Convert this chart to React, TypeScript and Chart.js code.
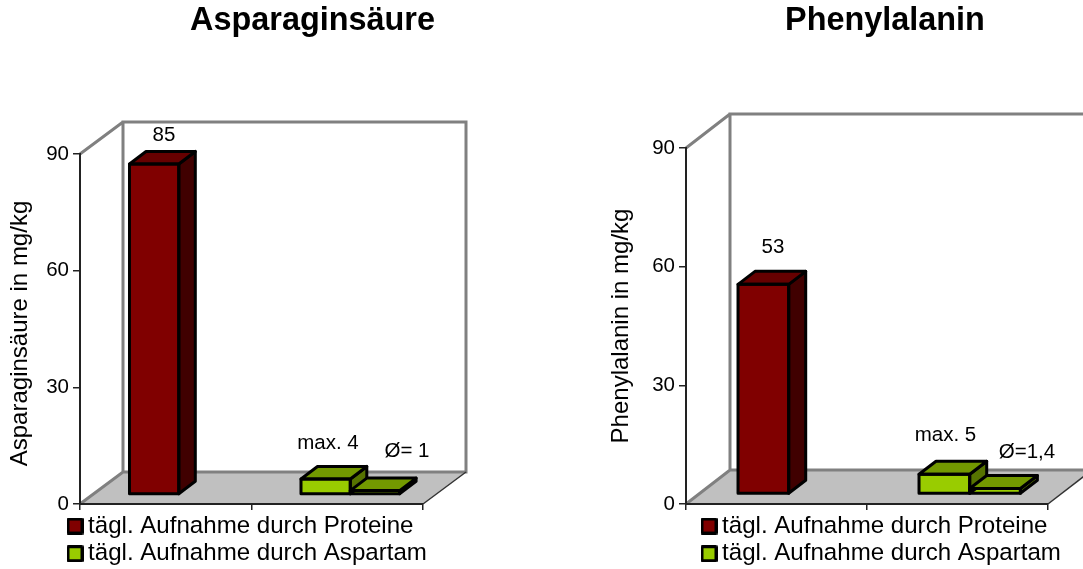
import React, { useEffect, useRef } from "react";
import { Chart, registerables } from "chart.js";

Chart.register(...registerables);

const FONT = '"Liberation Sans", Arial, sans-serif';
const categories = ["Proteine", "Aspartam"];
const legendProtein = "tägl. Aufnahme durch Proteine";
const legendAspartam = "tägl. Aufnahme durch Aspartam";

const aspProtein = [85, null];
const aspMax = [null, 4];
const aspAvg = [null, 1];
const aspLabels = ["85", "max. 4", "Ø= 1"];

const pheProtein = [53, null];
const pheMax = [null, 5];
const pheAvg = [null, 1.4];
const pheLabels = ["53", "max. 5", "Ø=1,4"];

const yMax = 90;
const yStep = 30;

const RED = { front: "#800000", top: "#660000", side: "#400000" };
const GREEN = { front: "#99CC00", top: "#739900", side: "#567300" };
const OUTLINE = 3;

function swatch(color: string) {
  const c = document.createElement("canvas");
  c.width = 17;
  c.height = 17;
  const x = c.getContext("2d")!;
  x.fillStyle = color;
  x.strokeStyle = "#000";
  x.lineWidth = 3;
  x.lineJoin = "round";
  x.rect(1.5, 1.5, 14, 14);
  x.fill();
  x.stroke();
  return c;
}

function poly(ctx: any, pts: number[][], fill?: string, stroke?: string, lw = 1) {
  ctx.beginPath();
  pts.forEach((p, i) => (i ? ctx.lineTo(p[0], p[1]) : ctx.moveTo(p[0], p[1])));
  ctx.closePath();
  if (fill) {
    ctx.fillStyle = fill;
    ctx.fill();
  }
  if (stroke) {
    ctx.strokeStyle = stroke;
    ctx.lineWidth = lw;
    ctx.lineJoin = "round";
    ctx.stroke();
  }
}

function plugin3d(cfg: any) {
  return {
    id: "box3d",
    afterLayout(chart: any) {
      const t = chart.titleBlock;
      t.left = cfg.titleX - 300;
      t.right = cfg.titleX + 300;
      const l = chart.legend;
      l.left = cfg.legendX;
      l.top = cfg.legendY;
      l.right = chart.width + 200;
      l.bottom = chart.height + 50;
      l.draw = () => l._draw();
      const y = chart.scales.y;
      if (cfg.yTitleShift && !y.__shifted) {
        y.__shifted = true;
        const orig = y.drawTitle.bind(y);
        y.drawTitle = () => {
          y.top += cfg.yTitleShift;
          y.bottom += cfg.yTitleShift;
          orig();
          y.top -= cfg.yTitleShift;
          y.bottom -= cfg.yTitleShift;
        };
      }
    },
    beforeDraw(chart: any) {
      const { ctx, chartArea: a } = chart;
      const { depthX: dx, depthY: dy } = cfg;
      ctx.save();
      const tl = a.top - dy;
      const bl = a.bottom - dy;
      poly(ctx, [[a.left, a.bottom], [a.right, a.bottom], [a.right + dx, bl], [a.left + dx, bl]], "#C0C0C0");
      ctx.strokeStyle = "#808080";
      ctx.lineWidth = 3;
      ctx.lineJoin = "miter";
      ctx.beginPath();
      ctx.moveTo(a.left, a.bottom);
      ctx.lineTo(a.left + dx, bl);
      ctx.lineTo(a.right + dx, bl);
      ctx.lineTo(a.right + dx, tl);
      ctx.lineTo(a.left + dx, tl);
      ctx.lineTo(a.left + dx, bl);
      ctx.moveTo(a.left + dx, tl);
      ctx.lineTo(a.left, a.top);
      ctx.stroke();
      ctx.strokeStyle = "#333333";
      ctx.lineWidth = 1.5;
      ctx.beginPath();
      ctx.moveTo(a.right, a.bottom);
      ctx.lineTo(a.right + dx, bl);
      ctx.stroke();
      ctx.restore();
    },
    beforeDatasetsDraw(chart: any) {
      chart.ctx.save();
      chart.ctx.translate(cfg.barShiftX, -cfg.barShiftY);
    },
    afterDatasetsDraw(chart: any) {
      const { ctx } = chart;
      const { barDepthX: bx, barDepthY: by } = cfg;
      const items: any[] = [];
      chart.data.datasets.forEach((ds: any, di: number) => {
        chart.getDatasetMeta(di).data.forEach((el: any, i: number) => {
          if (ds.data[i] !== null) items.push({ el, colors: di === 0 ? RED : GREEN, label: cfg.labels[di], off: cfg.labelOffsets[di] });
        });
      });
      items.sort((p, q) => p.el.x - q.el.x);
      items.forEach(({ el, colors }) => {
        const l = el.x - el.width / 2;
        const r = el.x + el.width / 2;
        const t = el.y;
        const b = el.base;
        poly(ctx, [[r, t], [r + bx, t - by], [r + bx, b - by], [r, b]], colors.side, "#000", OUTLINE);
        poly(ctx, [[l, t], [l + bx, t - by], [r + bx, t - by], [r, t]], colors.top, "#000", OUTLINE);
        poly(ctx, [[l, t], [r, t], [r, b], [l, b]], undefined, "#000", OUTLINE);
      });
      ctx.restore();
      ctx.save();
      ctx.fillStyle = "#000";
      ctx.font = `20.5px ${FONT}`;
      ctx.textAlign = "center";
      ctx.textBaseline = "middle";
      items.forEach(({ el, label, off }) => {
        ctx.fillText(label, el.x + off[0], el.y + off[1]);
      });
      ctx.restore();
    },
  };
}

function makeChart(canvas: HTMLCanvasElement, cfg: any) {
  const base = {
    borderWidth: 0,
    borderSkipped: false,
    clip: false,
    categoryPercentage: cfg.groupPercent,
    barPercentage: 1,
  };
  const chart = new Chart(canvas, {
    type: "bar",
    data: {
      labels: categories,
      datasets: [
        { ...base, label: legendProtein, data: cfg.protein, stack: "a", backgroundColor: RED.front },
        { ...base, label: legendAspartam, data: cfg.max, stack: "a", backgroundColor: GREEN.front },
        { ...base, label: "Ø", data: cfg.avg, stack: "b", backgroundColor: GREEN.front },
      ],
    },
    options: {
      animation: false,
      responsive: false,
      layout: { padding: { left: 0, right: canvas.width - cfg.plotRight, top: 0, bottom: 569 - cfg.plotBottom - 6 } },
      scales: {
        x: {
          stacked: true,
          afterFit: (s: any) => {
            s.height = 6;
          },
          ticks: { display: false },
          grid: { drawOnChartArea: false, tickLength: 6, tickColor: "#222", lineWidth: 1.5 },
          border: { color: "#222", width: 2 },
        },
        y: {
          stacked: true,
          min: 0,
          max: yMax,
          afterFit: (s: any) => {
            s.width = cfg.plotLeft;
          },
          ticks: { stepSize: yStep, color: "#000", font: { family: FONT, size: 20.5 }, padding: 4 },
          grid: { drawOnChartArea: false, tickLength: 7, tickColor: "#222", lineWidth: 1.5 },
          border: { color: "#222", width: 2 },
          title: {
            display: true,
            text: cfg.yTitle,
            color: "#000",
            font: { family: FONT, size: 24 },
            padding: { top: cfg.yTitlePad, bottom: 0 },
          },
        },
      },
      plugins: {
        tooltip: { enabled: false },
        title: {
          display: true,
          text: cfg.title,
          color: "#000",
          font: { family: FONT, size: 32.4, weight: "bold" },
          padding: { top: 1.5, bottom: cfg.plotTop - 1.5 - 38.88 },
        },
        legend: {
          display: true,
          position: "chartArea",
          align: "start",
          labels: {
            usePointStyle: true,
            pointStyleWidth: 2,
            boxHeight: 16,
            padding: 3.6,
            color: "#000",
            font: { family: FONT, size: 24.1 },
            generateLabels: () => [
              { text: legendProtein, pointStyle: swatch(RED.front), datasetIndex: 0 },
              { text: legendAspartam, pointStyle: swatch(GREEN.front), datasetIndex: 1 },
            ],
          },
        },
      },
    } as any,
    plugins: [plugin3d(cfg)],
  } as any);
  return chart;
}

const leftCfg = {
  title: "Asparaginsäure",
  yTitle: "Asparaginsäure in mg/kg",
  protein: aspProtein,
  max: aspMax,
  avg: aspAvg,
  labels: aspLabels,
  labelOffsets: [[22.9, -38.4], [15.4, -45.4], [45.1, -49]],
  titleX: 312.5,
  plotLeft: 80,
  plotRight: 423,
  plotTop: 154,
  plotBottom: 504,
  depthX: 43,
  depthY: 32,
  groupPercent: 0.575,
  barShiftX: 13.05,
  barShiftY: 9.5,
  barDepthX: 16.5,
  barDepthY: 12.5,
  legendX: 70.4,
  legendY: 510.4,
  yTitlePad: 5.6,
  yTitleShift: 4.5,
};

const rightCfg = {
  title: "Phenylalanin",
  yTitle: "Phenylalanin in mg/kg",
  protein: pheProtein,
  max: pheMax,
  avg: pheAvg,
  labels: pheLabels,
  labelOffsets: [[21.85, -46.7], [13.35, -48.5], [44.15, -46.3]],
  titleX: 885 - 541,
  plotLeft: 686 - 541,
  plotRight: 1048 - 541,
  plotTop: 148,
  plotBottom: 504,
  depthX: 44,
  depthY: 34,
  groupPercent: 0.56,
  barShiftX: 12.2,
  barShiftY: 10,
  barDepthX: 17,
  barDepthY: 13,
  legendX: 704.4 - 541,
  legendY: 510.4,
  yTitlePad: 65.6,
  yTitleShift: 0,
};

export default function App() {
  const leftRef = useRef<HTMLCanvasElement>(null);
  const rightRef = useRef<HTMLCanvasElement>(null);
  useEffect(() => {
    const a = makeChart(leftRef.current!, leftCfg);
    const b = makeChart(rightRef.current!, rightCfg);
    return () => {
      a.destroy();
      b.destroy();
    };
  }, []);
  return (
    <div style={{ position: "absolute", left: 0, top: 0, width: 1083, height: 569, overflow: "hidden", background: "#fff" }}>
      <canvas ref={leftRef} width={541} height={569} style={{ position: "absolute", left: 0, top: 0 }} />
      <canvas ref={rightRef} width={542} height={569} style={{ position: "absolute", left: 541, top: 0 }} />
    </div>
  );
}
